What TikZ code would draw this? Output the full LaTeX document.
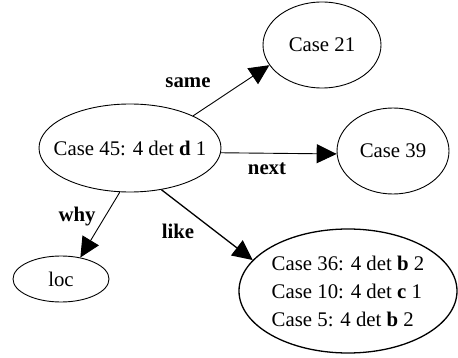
\documentclass[tikz,border=0pt]{standalone}
\usepackage{fontspec}
\setmainfont{Liberation Serif}[BoldFont={Liberation Serif Bold}]
\usetikzlibrary{shapes.geometric,arrows.meta}
\begin{document}
\begin{tikzpicture}[x=1pt,y=-1pt,
  every node/.style={font=\fontsize{20.8}{28}\selectfont},
  casenode/.style={ellipse,draw,line width=0.9pt,inner sep=-100pt},
  edgelabel/.style={font=\fontsize{20.8}{28}\selectfont\bfseries,anchor=base,inner sep=0pt},
  link/.style={line width=0.9pt,-{Triangle[length=20pt,width=19pt]}}]
\useasboundingbox (0,0) rectangle (458,358);
\node[casenode,minimum width=182pt,minimum height=88pt] (c45) at (130,148) {Case 45: 4 det \textbf{d} 1};
\node[casenode,minimum width=118pt,minimum height=86pt] (c21) at (322,45) {Case 21};
\node[casenode,minimum width=112pt,minimum height=86pt] (c39) at (393,151) {Case 39};
\node[casenode,minimum width=96pt,minimum height=46pt] (loc) at (61,279) {loc};
\node[casenode,line width=1.3pt,minimum width=218pt,minimum height=124pt,align=left] (big) at (348,291)
  {Case 36: 4 det \textbf{b} 2\\Case 10: 4 det \textbf{c} 1\\Case 5: 4 det \textbf{b} 2};
\draw[link] (c45.27) -- (c21.201);
\draw[link] (c45.-3) -- (c39.183);
\draw[link] (c45.257) -- (loc.48);
\draw[link,line width=1.3pt] (c45.307) -- (big.162);
\node[edgelabel] (lsame) at (188,88) {same};
\node[edgelabel] (lnext) at (267,175) {next};
\node[edgelabel] (lwhy) at (77,222) {why};
\node[edgelabel] (llike) at (178,239) {like};
\end{tikzpicture}
\end{document}
